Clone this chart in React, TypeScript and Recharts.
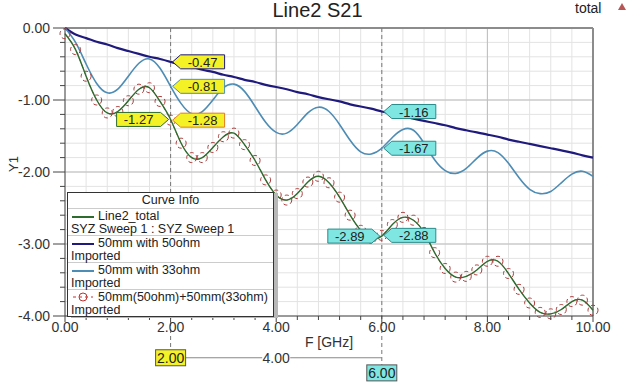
import React from "react";
import {
  LineChart,
  Line,
  XAxis,
  YAxis,
  CartesianGrid,
  ReferenceLine,
  ReferenceDot,
} from "recharts";

// frequency points, GHz (one marker every 0.2 GHz)
const freq = [
  0, 0.2, 0.4, 0.6, 0.8, 1, 1.2, 1.4, 1.6, 1.8, 2, 2.2, 2.4, 2.6, 2.8, 3, 3.2,
  3.4, 3.6, 3.8, 4, 4.2, 4.4, 4.6, 4.8, 5, 5.2, 5.4, 5.6, 5.8, 6, 6.2, 6.4, 6.6,
  6.8, 7, 7.2, 7.4, 7.6, 7.8, 8, 8.2, 8.4, 8.6, 8.8, 9, 9.2, 9.4, 9.6, 9.8, 10,
];

// 50mm with 50ohm
const line50 = [
  0, -0.09, -0.14, -0.19, -0.23, -0.28, -0.32, -0.36, -0.4, -0.43, -0.47, -0.51,
  -0.54, -0.58, -0.61, -0.65, -0.68, -0.72, -0.75, -0.79, -0.82, -0.85, -0.89,
  -0.92, -0.96, -0.99, -1.02, -1.06, -1.09, -1.12, -1.16, -1.19, -1.22, -1.26,
  -1.29, -1.32, -1.35, -1.39, -1.42, -1.45, -1.48, -1.51, -1.55, -1.58, -1.61,
  -1.64, -1.67, -1.7, -1.73, -1.77, -1.8,
];

// 50mm with 33ohm
const line33 = [
  0, -0.2, -0.5, -0.77, -0.9, -0.85, -0.67, -0.49, -0.43, -0.56, -0.81, -1.05,
  -1.19, -1.16, -1.0, -0.83, -0.78, -0.88, -1.09, -1.31, -1.45, -1.46, -1.34,
  -1.18, -1.1, -1.16, -1.34, -1.56, -1.72, -1.75, -1.67, -1.52, -1.41, -1.42,
  -1.6, -1.83, -1.98, -2.02, -1.95, -1.81, -1.71, -1.73, -1.88, -2.08, -2.24,
  -2.3, -2.27, -2.15, -2.03, -1.99, -2.06,
];

// Line2_total
const total = [
  -0.08, -0.3, -0.67, -1.0, -1.18, -1.16, -1.01, -0.85, -0.83, -1.02, -1.27,
  -1.6, -1.8, -1.8, -1.66, -1.51, -1.46, -1.62, -1.84, -2.11, -2.32, -2.39,
  -2.3, -2.14, -2.06, -2.15, -2.35, -2.6, -2.81, -2.92, -2.89, -2.73, -2.63,
  -2.67, -2.84, -3.12, -3.34, -3.46, -3.45, -3.36, -3.24, -3.24, -3.41, -3.63,
  -3.82, -3.95, -3.97, -3.91, -3.8, -3.78, -3.92,
];

// 50mm(50ohm)+50mm(33ohm)
const cascade = [
  -0.08, -0.3, -0.67, -1.0, -1.18, -1.16, -1.01, -0.85, -0.83, -1.02, -1.28,
  -1.6, -1.8, -1.8, -1.66, -1.51, -1.46, -1.62, -1.84, -2.11, -2.32, -2.39,
  -2.3, -2.14, -2.06, -2.15, -2.35, -2.6, -2.81, -2.92, -2.88, -2.73, -2.63,
  -2.67, -2.84, -3.12, -3.34, -3.46, -3.45, -3.36, -3.24, -3.24, -3.41, -3.63,
  -3.82, -3.95, -3.97, -3.91, -3.8, -3.78, -3.92,
];

const xTicks = [
  0, 0.4, 0.8, 1.2, 1.6, 2, 2.4, 2.8, 3.2, 3.6, 4, 4.4, 4.8, 5.2, 5.6, 6, 6.4,
  6.8, 7.2, 7.6, 8, 8.4, 8.8, 9.2, 9.6, 10,
];
const yTicks = [
  0, -0.2, -0.4, -0.6, -0.8, -1, -1.2, -1.4, -1.6, -1.8, -2, -2.2, -2.4, -2.6,
  -2.8, -3, -3.2, -3.4, -3.6, -3.8, -4,
];
const xMajor = [0, 2, 4, 6, 8, 10];
const yMajor = [0, -1, -2, -3, -4];

const NAVY = "#1f1a7c";
const BLUE = "#4d8cb5";
const GREEN = "#2e6b2e";
const RED = "#c03030";
const YELLOW = "#f4f126";
const CYAN = "#7fe6e2";

const FONT = "'Liberation Sans', Arial, sans-serif";

const data = freq.map((f, i) => ({
  f,
  a: line50[i],
  b: line33[i],
  c: total[i],
  d: cascade[i],
}));

const isMajor = (v: number, list: number[]) =>
  list.some((m) => Math.abs(m - v) < 1e-6);

const XTick = (props: any) => {
  const { x, y, payload } = props;
  const major = isMajor(payload.value, xMajor);
  return (
    <g>
      <line x1={x} x2={x} y1={y} y2={y + (major ? 6 : 4)} stroke="#444" />
      {major && (
        <text x={x} y={y + 16} textAnchor="middle" fontSize={14} fill="#333" fontFamily={FONT}>
          {payload.value.toFixed(2)}
        </text>
      )}
    </g>
  );
};

const YTick = (props: any) => {
  const { x, y, payload } = props;
  const major = isMajor(payload.value, yMajor);
  return (
    <g>
      <line x1={x - (major ? 12 : 5)} x2={x} y1={y} y2={y} stroke="#444" />
      {major && (
        <text x={x - 15} y={y + 5} textAnchor="end" fontSize={14} fill="#333" fontFamily={FONT}>
          {payload.value.toFixed(2)}
        </text>
      )}
    </g>
  );
};

// marker flag pointing at a curve
const Flag = (props: any) => {
  const { cx, cy, text, side, fill, stroke } = props;
  const w = 44;
  const h = 14;
  const p = 8;
  const dir = side === "left" ? -1 : 1;
  const x0 = cx + dir * 2;
  const x1 = x0 + dir * p;
  const x2 = x1 + dir * w;
  const pts = `${x0},${cy} ${x1},${cy - h / 2} ${x2},${cy - h / 2} ${x2},${cy + h / 2} ${x1},${cy + h / 2}`;
  return (
    <g>
      <polygon points={pts} fill={fill} stroke={stroke} strokeWidth={1} />
      <text x={(x1 + x2) / 2} y={cy + 5} textAnchor="middle" fontSize={13} fill="#222" fontFamily={FONT}>
        {text}
      </text>
    </g>
  );
};

const Box = (props: any) => {
  const { cx, cy, text, fill } = props;
  if (!fill) {
    return (
      <g>
        <rect x={cx - 14} y={cy - 8} width={28} height={16} fill="#fff" />
        <text x={cx} y={cy + 5} textAnchor="middle" fontSize={14} fill="#333" fontFamily={FONT}>
          {text}
        </text>
      </g>
    );
  }
  return (
    <g>
      <rect x={cx - 15} y={cy - 8} width={30} height={16} fill={fill} stroke="#555" />
      <text x={cx} y={cy + 5} textAnchor="middle" fontSize={14} fill="#222" fontFamily={FONT}>
        {text}
      </text>
    </g>
  );
};

const idx2 = freq.indexOf(2);
const idx6 = freq.indexOf(6);

const flags = [
  { x: 2, y: line50[idx2], side: "right", fill: YELLOW, stroke: NAVY },
  { x: 2, y: line33[idx2], side: "right", fill: YELLOW, stroke: BLUE },
  { x: 2, y: total[idx2], side: "left", fill: YELLOW, stroke: GREEN },
  { x: 2, y: cascade[idx2], side: "right", fill: YELLOW, stroke: "#e07b20" },
  { x: 6, y: line50[idx6], side: "right", fill: CYAN, stroke: "#2a8a8a" },
  { x: 6, y: line33[idx6], side: "right", fill: CYAN, stroke: "#2a8a8a" },
  { x: 6, y: total[idx6], side: "left", fill: CYAN, stroke: "#2a8a8a" },
  { x: 6, y: cascade[idx6], side: "right", fill: CYAN, stroke: "#2a8a8a" },
];

const legendRows = [
  { name: "Line2_total", sub: "SYZ Sweep 1 : SYZ Sweep 1", color: GREEN, circle: false },
  { name: "50mm with 50ohm", sub: "Imported", color: NAVY, circle: false },
  { name: "50mm with 33ohm", sub: "Imported", color: BLUE, circle: false },
  { name: "50mm(50ohm)+50mm(33ohm)", sub: "Imported", color: RED, circle: true },
];

const CurveInfo = () => (
  <div
    style={{
      position: "absolute",
      left: 67,
      top: 192,
      width: 205,
      background: "#fff",
      border: "1px solid #333",
      boxShadow: "4px 1px 0 #b8b8b8",
      fontFamily: FONT,
      fontSize: 12.5,
      color: "#222",
    }}
  >
    <div style={{ textAlign: "center", height: 15, lineHeight: "15px", borderBottom: "1px solid #ccc" }}>
      Curve Info
    </div>
    {legendRows.map((r, i) => (
      <div
        key={r.name}
        style={{
          padding: "1px 0 0 3px",
          height: 25,
          lineHeight: "12.5px",
          borderBottom: i < legendRows.length - 1 ? "1px solid #ccc" : "none",
          whiteSpace: "nowrap",
        }}
      >
        <div style={{ display: "flex", alignItems: "center", height: 12.5 }}>
          <svg width={27} height={12}>
            {r.circle ? (
              <g>
                <line x1={2} x2={22} y1={6} y2={6} stroke={r.color} strokeDasharray="3 3" />
                <circle cx={12} cy={6} r={4} fill="none" stroke={r.color} />
              </g>
            ) : (
              <line x1={1} x2={23} y1={7} y2={7} stroke={r.color} strokeWidth={2} />
            )}
          </svg>
          <span>{r.name}</span>
        </div>
        <div>{r.sub}</div>
      </div>
    ))}
  </div>
);

export default function App() {
  return (
    <div
      style={{
        position: "absolute",
        left: 0,
        top: 0,
        width: 640,
        height: 384,
        background: "#fff",
        fontFamily: FONT,
      }}
    >
      <div
        style={{
          position: "absolute",
          left: 0,
          top: -2,
          width: 635,
          textAlign: "center",
          fontSize: 20,
          lineHeight: "24px",
          color: "#222",
        }}
      >
        Line2 S21
      </div>
      <div style={{ position: "absolute", left: 575, top: 0, fontSize: 14, lineHeight: "16px", color: "#222" }}>
        total
      </div>
      <svg style={{ position: "absolute", left: 618, top: 3 }} width={8} height={8}>
        <polygon points="4,0 8,7 0,7" fill="#b85555" />
      </svg>
      <LineChart
        width={640}
        height={384}
        data={data}
        margin={{ top: 28, right: 47, bottom: 38, left: 10 }}
      >
        <CartesianGrid stroke="#e3e3e3" strokeWidth={1} />
        {[4, 8].map((v) => (
          <ReferenceLine key={"vx" + v} x={v} stroke="#bdbdbd" />
        ))}
        {[-1, -2, -3].map((v) => (
          <ReferenceLine key={"hy" + v} y={v} stroke="#bdbdbd" />
        ))}
        <ReferenceLine y={0} stroke="#8c8c8c" strokeWidth={2} />
        <ReferenceLine x={10} stroke="#8c8c8c" strokeWidth={2} />
        <ReferenceLine
          segment={[{ x: 2, y: 0 }, { x: 2, y: -4.5 }]}
          stroke="#777"
          strokeDasharray="4 3"
          ifOverflow="visible"
        />
        <ReferenceLine
          segment={[{ x: 6, y: 0 }, { x: 6, y: -4.68 }]}
          stroke="#777"
          strokeDasharray="4 3"
          ifOverflow="visible"
        />
        <ReferenceLine
          segment={[{ x: 2, y: -4.58 }, { x: 6, y: -4.58 }]}
          stroke="#888"
          ifOverflow="visible"
        />
        <XAxis
          dataKey="f"
          type="number"
          domain={[0, 10]}
          ticks={xTicks}
          interval={0}
          tickSize={0}
          tickMargin={0}
          tick={<XTick />}
          height={30}
          stroke="#444"
          label={{ value: "F [GHz]", position: "insideBottom", offset: -1, fontSize: 14, fill: "#333" }}
        />
        <YAxis
          type="number"
          domain={[-4, 0]}
          ticks={yTicks}
          interval={0}
          tickSize={0}
          tickMargin={0}
          tick={<YTick />}
          width={55}
          stroke="#444"
          label={{ value: "Y1", angle: -90, position: "insideLeft", offset: 3, fontSize: 13, fill: "#333" }}
        />
        <Line
          dataKey="a"
          stroke={NAVY}
          strokeWidth={2.2}
          dot={false}
          type="natural"
          isAnimationActive={false}
        />
        <Line
          dataKey="b"
          stroke={BLUE}
          strokeWidth={1.6}
          dot={false}
          type="natural"
          isAnimationActive={false}
        />
        <Line
          dataKey="d"
          stroke={RED}
          strokeWidth={0.8}
          strokeDasharray="4 3"
          dot={{ r: 5, stroke: "#a83a3a", strokeWidth: 1, fill: "none" }}
          type="natural"
          isAnimationActive={false}
        />
        <Line
          dataKey="c"
          stroke={GREEN}
          strokeWidth={1.4}
          dot={false}
          type="natural"
          isAnimationActive={false}
        />
        {flags.map((fl, i) => (
          <ReferenceDot
            key={"fl" + i}
            x={fl.x}
            y={fl.y}
            ifOverflow="visible"
            shape={(p: any) => (
              <Flag
                cx={p.cx}
                cy={p.cy}
                text={fl.y.toFixed(2)}
                side={fl.side}
                fill={fl.fill}
                stroke={fl.stroke}
              />
            )}
          />
        ))}
        <ReferenceDot x={4} y={-4.58} ifOverflow="visible" shape={(p: any) => <Box cx={p.cx} cy={p.cy} text="4.00" />} />
        <ReferenceDot x={2} y={-4.58} ifOverflow="visible" shape={(p: any) => <Box cx={p.cx} cy={p.cy} text="2.00" fill={YELLOW} />} />
        <ReferenceDot x={6} y={-4.79} ifOverflow="visible" shape={(p: any) => <Box cx={p.cx} cy={p.cy} text="6.00" fill={CYAN} />} />
      </LineChart>
      <CurveInfo />
    </div>
  );
}
